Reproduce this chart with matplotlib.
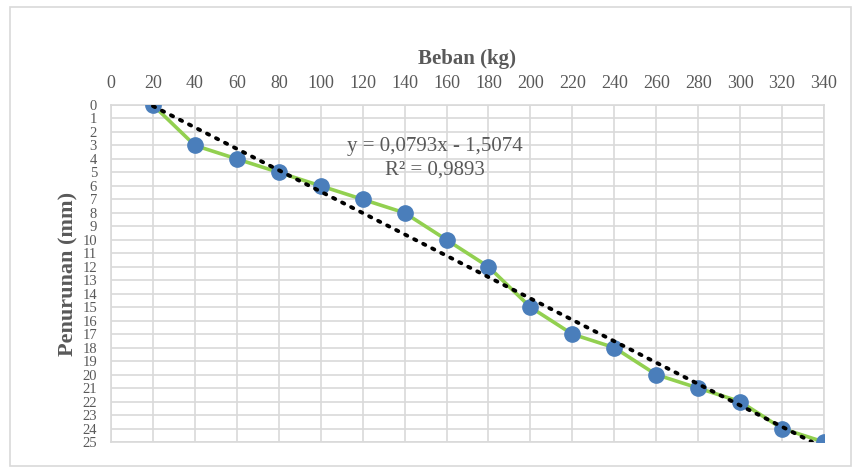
import numpy as np
import matplotlib.pyplot as plt
from matplotlib.patches import Rectangle

# data
beban = [20, 40, 60, 80, 100, 120, 140, 160, 180, 200, 220, 240, 260, 280, 300, 320, 340]
penurunan = [0, 3, 4, 5, 6, 7, 8, 10, 12, 15, 17, 18, 20, 21, 22, 24, 25]
slope = 0.0793
intercept = -1.5074
r2 = 0.9893
x_ticks = list(range(0, 341, 20))
y_ticks = list(range(0, 26))

plt.rcParams['font.family'] = ['Liberation Serif', 'DejaVu Serif']

fig = plt.figure(figsize=(8.55, 4.67), dpi=100)
ax = fig.add_axes([111 / 855, 25 / 467, 713 / 855, 337 / 467])

# chart border
fig.patches.append(Rectangle((10 / 855, 1 / 467), 841 / 855, 459 / 467,
                             transform=fig.transFigure, fill=False,
                             edgecolor='#D9D9D9', linewidth=1.2))

# trendline, clipped at the axis limit like Excel does
x_end = (25 - intercept) / slope
xt = np.array([beban[0], x_end])
ax.plot(xt, slope * xt + intercept, linestyle=(0, (0.6, 2.0)), color='black',
        linewidth=2.8, dash_capstyle='round', zorder=4)

ax.plot(beban, penurunan, color='#92D050', linewidth=2.6, marker='o',
        markersize=11, markerfacecolor='#4A7EBB', markeredgecolor='#4A7EBB',
        zorder=3)

ax.set_xlim(0, 340)
ax.set_ylim(25, 0)
ax.set_xticks(x_ticks)
ax.set_yticks(y_ticks)
ax.xaxis.tick_top()
ax.xaxis.set_label_position('top')
ax.tick_params(axis='x', length=0, pad=9, labelsize=13, labelcolor='#595959')
ax.tick_params(axis='y', length=0, pad=10, labelsize=10.5, labelcolor='#595959')
ax.grid(True, color='#D9D9D9', linewidth=1.2)
ax.set_axisbelow(True)
for s in ax.spines.values():
    s.set_color('#D9D9D9')
    s.set_linewidth(1.2)

ax.set_xlabel('Beban (kg)', fontsize=15, fontweight='bold', color='#595959', labelpad=8)
ax.set_ylabel('Penurunan (mm)', fontsize=16, fontweight='bold', color='#595959', labelpad=3)

ax.text(154.5, 3.05, f'y = {slope:.4f}x - {abs(intercept):.4f}'.replace('.', ','),
        ha='center', va='center', fontsize=15, color='#595959')
ax.text(154.5, 4.8, f'R² = {r2:.4f}'.replace('.', ','),
        ha='center', va='center', fontsize=15, color='#595959')

fig.savefig('out.png', dpi=100)
